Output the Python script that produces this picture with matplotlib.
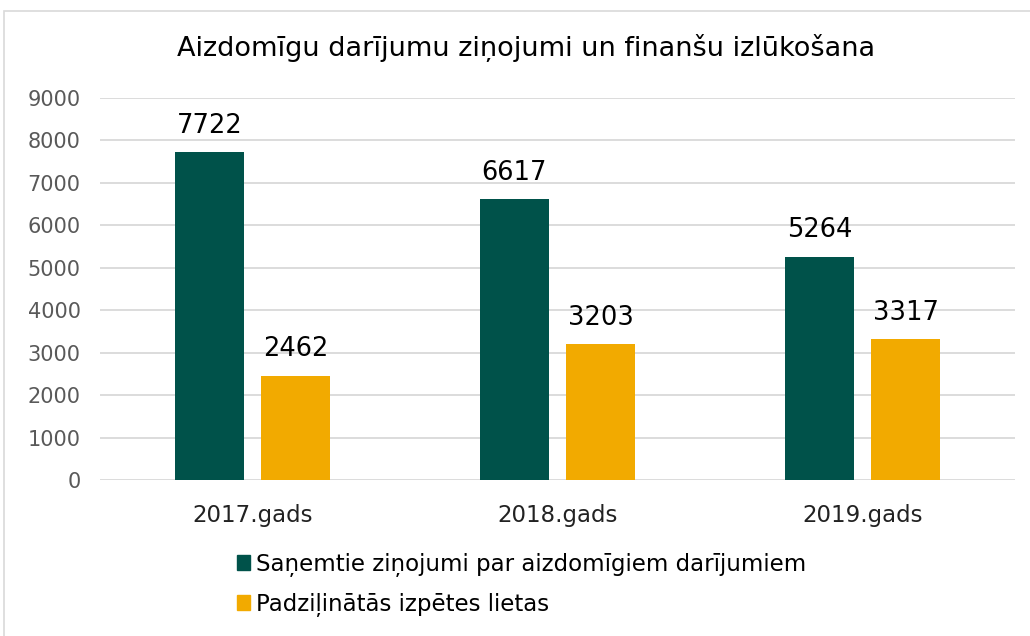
import matplotlib.pyplot as plt
import numpy as np
from matplotlib.patches import Rectangle, Patch

years = ["2017.gads", "2018.gads", "2019.gads"]
zinojumi = [7722, 6617, 5264]
lietas = [2462, 3203, 3317]
series_names = ["Saņemtie ziņojumi par aizdomīgiem darījumiem",
                "Padziļinātās izpētes lietas"]
title = "Aizdomīgu darījumu ziņojumi un finanšu izlūkošana"

teal = "#00524A"
gold = "#F2AA00"

plt.rcParams['font.family'] = ['DejaVu Sans']

W, H = 1030, 636
fig = plt.figure(figsize=(W / 100, H / 100), dpi=100)

# chart frame (light gray, runs off the right/bottom edge)
fig.patches.append(Rectangle((4 / W, -0.05), 1.1, 1 - 11 / H + 0.05,
                             transform=fig.transFigure, fill=False,
                             edgecolor="#d9d9d9", lw=1.2))

ax = fig.add_axes([100 / W, 1 - 480 / H, 915 / W, (480 - 98) / H])

x = np.arange(len(years))
bw = 0.223
off = 0.141
b1 = ax.bar(x - off, zinojumi, bw, color=teal, label=series_names[0])
b2 = ax.bar(x + off, lietas, bw, color=gold, label=series_names[1])

for bars, vals in ((b1, zinojumi), (b2, lietas)):
    for r, v in zip(bars, vals):
        ax.text(r.get_x() + r.get_width() / 2, v + 310, str(v),
                ha="center", va="bottom", fontsize=18.5, color="black")

ax.set_xlim(-0.5, 2.5)
ax.set_ylim(0, 9000)
ax.set_yticks(range(0, 9001, 1000))
ax.set_xticks(x)
ax.set_xticklabels(years, fontsize=16.5, color="#222222")
ax.tick_params(axis="y", labelsize=15, labelcolor="#595959", length=0, pad=14)
ax.tick_params(axis="x", length=0, pad=17)
ax.grid(axis="y", color="#d9d9d9", lw=1.3)
ax.set_axisbelow(True)
for s in ax.spines.values():
    s.set_visible(False)

fig.text(526 / W, 1 - 48 / H, title, ha="center", va="center", fontsize=19.5)

handles = [Patch(color=teal), Patch(color=gold)]
fig.legend(handles, series_names, loc="upper left",
           bbox_to_anchor=(216 / W, 1 - 532 / H), frameon=False,
           fontsize=16.5, handlelength=0.6, handleheight=0.6,
           handletextpad=0.25, labelspacing=0.7)

fig.savefig("out.png", dpi=100)
